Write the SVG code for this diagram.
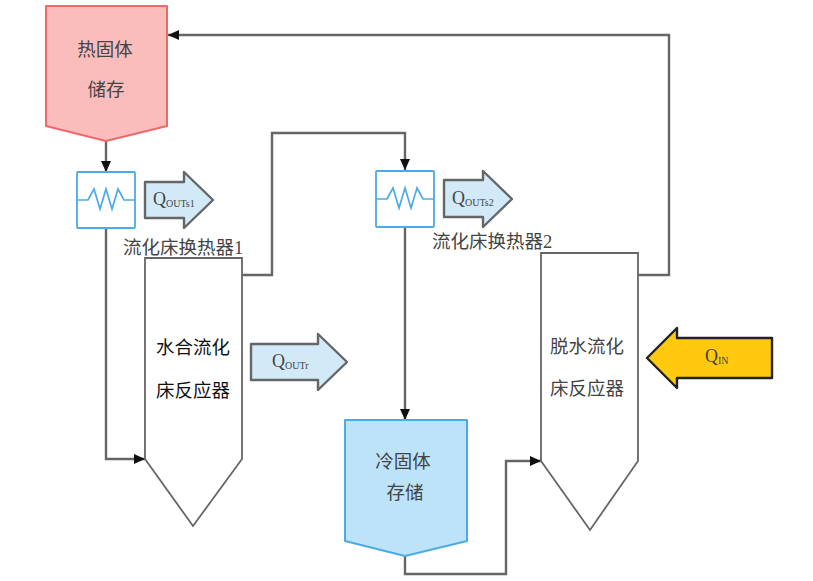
<svg xmlns="http://www.w3.org/2000/svg" width="813" height="581" viewBox="0 0 813 581">
<style>
text{font-family:"Liberation Serif","Noto Sans CJK SC",serif;fill:#444}
.t{font-size:18.5px;text-anchor:middle}
.l{font-size:18.5px}
.q{font-size:18px}
.s{font-size:10px}
.c{fill:none;stroke:#666;stroke-width:2.4}
.r{fill:#fff;stroke:#666;stroke-width:1.8}
.a{fill:#d2e9f8;stroke:#666;stroke-width:2.4;stroke-linejoin:round}
.hx{fill:#fff;stroke:#4cabe6;stroke-width:1.8}
.zz{fill:none;stroke:#4cabe6;stroke-width:1.7}
</style>
<defs>
<marker id="m" markerUnits="userSpaceOnUse" markerWidth="12" markerHeight="10" refX="11" refY="5" orient="auto"><path d="M0 0L11 5L0 10Z" fill="#111"/></marker>
</defs>
<g id="connectors">
<path class="c" d="M106 141V172" marker-end="url(#m)"/>
<path class="c" d="M106 228V459H145" marker-end="url(#m)"/>
<path class="c" d="M242 275H272V133H405V170" marker-end="url(#m)"/>
<path class="c" d="M405 227V420" marker-end="url(#m)"/>
<path class="c" d="M405 556V574H506V461H541" marker-end="url(#m)"/>
<path class="c" d="M638 275H669V35H168" marker-end="url(#m)"/>
</g>
<g id="hot-storage">
<path d="M46 6H167V126L106 141L46 126Z" fill="#fbbcbc" stroke="#f0686a" stroke-width="2" stroke-linejoin="round"/>
<text class="t" x="105" y="56">热固体</text>
<text class="t" x="106" y="96">储存</text>
</g>
<g id="hx1">
<rect class="hx" x="77" y="172" width="58" height="56" rx="1"/>
<path class="zz" d="M77 200H88L94 189L100 209L106 189L112 209L118 189L124 200H135"/>
</g>
<g id="q-out-s1">
<path class="a" d="M145 182H184V172L213 200L184 228V218H145Z"/>
<text class="q" x="153" y="205">Q<tspan class="s" dy="2">OUTs1</tspan></text>
</g>
<text id="hx1-label" class="l" x="123" y="254">流化床换热器1</text>
<g id="hx2">
<rect class="hx" x="376" y="171" width="58" height="56" rx="1"/>
<path class="zz" d="M376 199H387L393 188L399 208L405 188L411 208L417 188L423 199H434"/>
</g>
<g id="q-out-s2">
<path class="a" d="M444 180H483V171L512 199L483 227V217H444Z"/>
<text class="q" x="452" y="204">Q<tspan class="s" dy="2">OUTs2</tspan></text>
</g>
<text id="hx2-label" class="l" x="432" y="248">流化床换热器2</text>
<g id="hydration-reactor">
<path class="r" d="M145 258H242V459L193 526L145 459Z"/>
<text class="t" x="193" y="354" style="fill:#111">水合流化</text>
<text class="t" x="193" y="397" style="fill:#111">床反应器</text>
</g>
<g id="q-out-r">
<path class="a" d="M251 344H318V334L347 362L318 390V380H251Z"/>
<text class="q" x="272" y="367">Q<tspan class="s" dy="2">OUTr</tspan></text>
</g>
<g id="cold-storage">
<path d="M345 420H467V541L405 556L345 541Z" fill="#bde3f8" stroke="#4cabe6" stroke-width="2" stroke-linejoin="round"/>
<text class="t" x="403" y="468">冷固体</text>
<text class="t" x="405" y="499">存储</text>
</g>
<g id="dehydration-reactor">
<path class="r" d="M541 253H638V461L590 530L541 461Z"/>
<text class="t" x="587" y="353">脱水流化</text>
<text class="t" x="587" y="395">床反应器</text>
</g>
<g id="q-in">
<path d="M772 338H677V328L647 358L677 388V378H772Z" fill="#ffc90e" stroke="#222" stroke-width="2.4" stroke-linejoin="round"/>
<text class="q" x="705" y="362">Q<tspan class="s" dy="2">IN</tspan></text>
</g>
</svg>
